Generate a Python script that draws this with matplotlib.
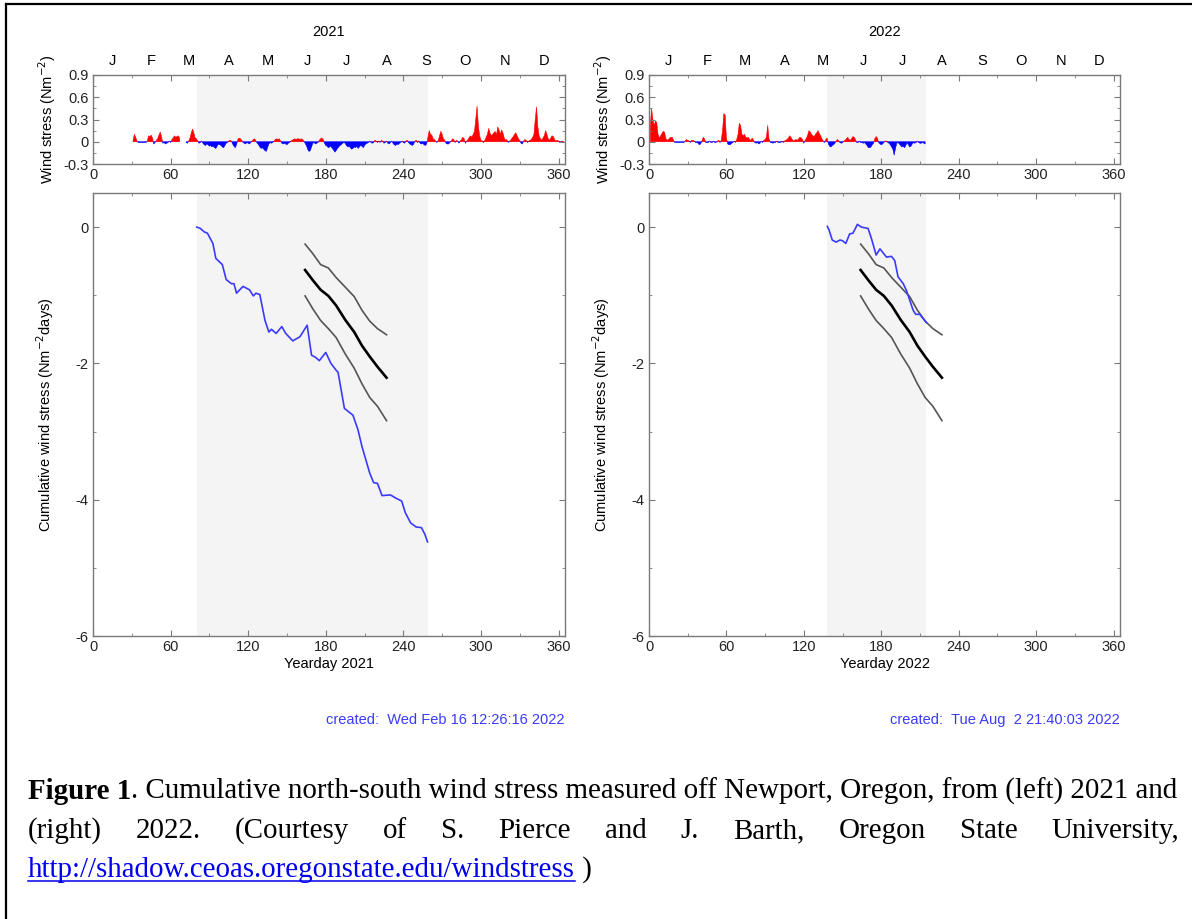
import numpy as np
import matplotlib
matplotlib.use("Agg")
import matplotlib.pyplot as plt
from matplotlib.lines import Line2D
from matplotlib.ticker import MultipleLocator

plt.rcParams["font.family"] = ["Liberation Sans", "DejaVu Sans"]
plt.rcParams["axes.unicode_minus"] = False

# daily north-south wind stress (N m^-2)
days_2021 = np.arange(31, 365)
tau_2021 = [
    0.02, 0.10, 0.06, 0.01, -0.01, -0.01, -0.01, -0.01, -0.01, -0.01,
    -0.01, 0.01, 0.08, 0.07, 0.09, 0.05, -0.03, -0.01, 0.02, 0.04,
    0.09, 0.13, 0.07, -0.02, -0.01, -0.03, -0.02, -0.01, 0.01, -0.01,
    0.03, 0.05, 0.08, 0.06, 0.07, 0.08, 0.05, np.nan, np.nan, np.nan,
    np.nan, -0.01, -0.02, 0.01, 0.05, 0.12, 0.17, 0.12, 0.05, 0.04,
    0.01, -0.02, -0.01, 0.01, -0.02, -0.04, -0.05, -0.03, -0.04, -0.06,
    -0.05, -0.07, -0.06, -0.08, -0.09, -0.06, -0.03, -0.04, -0.05, -0.07,
    -0.08, -0.05, -0.02, -0.01, 0.01, 0.02, 0.01, -0.03, -0.06, -0.08,
    -0.04, 0.03, 0.05, 0.04, 0.02, -0.01, -0.02, -0.03, -0.01, -0.02,
    -0.03, -0.01, 0.01, 0.03, 0.04, 0.01, -0.02, -0.04, -0.07, -0.09,
    -0.08, -0.10, -0.12, -0.13, -0.08, -0.03, -0.01, -0.02, -0.01, 0.01,
    0.03, 0.04, 0.03, 0.04, 0.01, -0.02, -0.03, -0.02, -0.03, -0.04,
    -0.02, -0.01, 0.01, 0.02, 0.03, 0.04, 0.03, 0.04, 0.04, 0.03,
    0.04, 0.03, 0.01, -0.02, -0.05, -0.10, -0.13, -0.12, -0.07, -0.02,
    -0.01, -0.03, -0.02, -0.01, 0.02, 0.04, 0.05, 0.03, -0.02, -0.05,
    -0.06, -0.08, -0.07, -0.06, -0.09, -0.11, -0.14, -0.12, -0.09, -0.07,
    -0.05, -0.04, -0.02, -0.01, -0.02, -0.05, -0.07, -0.06, -0.08, -0.10,
    -0.09, -0.07, -0.08, -0.06, -0.09, -0.07, -0.05, -0.06, -0.08, -0.05,
    -0.03, -0.02, -0.01, 0.01, -0.01, -0.02, -0.01, 0.02, 0.01, -0.01,
    0.01, -0.01, 0.02, 0.01, -0.02, -0.01, 0.01, -0.02, -0.03, -0.01,
    0.01, -0.02, -0.04, -0.05, -0.03, -0.04, -0.02, -0.01, 0.01, -0.01,
    -0.02, 0.01, 0.02, -0.01, -0.03, -0.04, -0.05, -0.03, 0.01, 0.02,
    -0.01, 0.01, -0.02, -0.03, -0.02, -0.04, -0.05, -0.03, 0.06, 0.15,
    0.10, 0.09, 0.04, 0.03, 0.01, -0.01, 0.02, 0.08, 0.14, 0.10,
    0.04, 0.02, -0.02, -0.03, -0.03, -0.01, 0.01, 0.04, 0.03, -0.01,
    0.02, 0.01, -0.02, 0.01, 0.03, 0.06, 0.04, -0.02, 0.01, 0.03,
    0.06, 0.08, 0.06, 0.10, 0.14, 0.30, 0.48, 0.22, 0.08, 0.02,
    0.01, -0.01, 0.02, 0.06, 0.10, 0.18, 0.12, 0.08, 0.10, 0.12,
    0.14, 0.09, 0.20, 0.16, 0.10, 0.16, 0.12, 0.05, 0.02, 0.03,
    -0.01, 0.01, 0.02, 0.05, 0.07, 0.10, 0.12, 0.08, 0.04, 0.02,
    -0.02, -0.03, 0.01, 0.03, 0.02, -0.01, 0.01, 0.02, 0.03, 0.06,
    0.10, 0.30, 0.47, 0.20, 0.08, 0.04, 0.02, 0.05, 0.08, 0.15,
    0.10, 0.04, 0.02, 0.05, 0.08, 0.07, 0.03, 0.01, 0.02, 0.01,
    -0.01, 0.00, 0.01, 0.00,
]

days_2022 = np.arange(1, 215)
tau_2022 = [
    0.20, 0.45, 0.30, 0.22, 0.28, 0.26, 0.10, 0.05, 0.08, 0.11,
    0.14, 0.13, 0.05, 0.02, 0.03, 0.05, 0.06, 0.06, 0.02, -0.01,
    -0.01, -0.01, -0.01, -0.01, -0.01, -0.01, -0.01, 0.01, 0.03, 0.02,
    0.01, -0.01, 0.02, 0.02, 0.01, -0.01, -0.01, -0.02, -0.04, -0.03,
    0.01, 0.06, 0.04, -0.01, -0.01, -0.01, 0.01, -0.01, -0.01, 0.01,
    -0.01, -0.01, 0.01, 0.02, -0.01, 0.02, 0.15, 0.38, 0.36, 0.05,
    -0.03, -0.04, -0.04, -0.02, -0.01, 0.01, -0.01, 0.03, 0.10, 0.25,
    0.22, 0.10, 0.08, 0.10, 0.06, 0.05, 0.06, 0.03, 0.02, 0.05,
    0.02, -0.01, -0.02, -0.01, -0.03, -0.02, 0.01, -0.01, 0.02, 0.03,
    0.06, 0.22, 0.04, -0.01, -0.01, -0.02, -0.01, -0.01, 0.01, -0.01,
    -0.01, -0.01, 0.01, -0.01, 0.01, 0.02, 0.03, 0.05, 0.08, 0.06,
    0.03, 0.01, 0.02, 0.03, 0.02, 0.04, 0.06, 0.05, 0.03, -0.02,
    0.02, 0.05, 0.09, 0.15, 0.13, 0.10, 0.08, 0.07, 0.10, 0.12,
    0.15, 0.11, 0.08, 0.04, 0.01, -0.01, 0.03, 0.05, -0.03, -0.06,
    -0.07, -0.05, -0.04, -0.02, 0.01, 0.03, 0.01, -0.01, -0.02, -0.01,
    0.01, 0.02, 0.04, 0.06, 0.03, 0.02, 0.04, 0.07, 0.06, 0.03,
    -0.01, -0.01, 0.01, -0.01, -0.01, -0.02, -0.01, -0.03, -0.05, -0.08,
    -0.08, -0.07, -0.04, -0.02, 0.04, 0.07, 0.05, -0.01, -0.03, -0.04,
    -0.03, -0.01, 0.01, 0.01, -0.01, -0.02, -0.04, -0.07, -0.10, -0.18,
    -0.09, -0.02, -0.01, -0.03, -0.05, -0.07, -0.06, -0.08, -0.05, -0.01,
    -0.04, -0.07, -0.06, -0.03, -0.01, -0.02, -0.01, 0.01, -0.01, -0.02,
    -0.02, -0.01, -0.02, -0.03,
]

# cumulative wind stress since the spring transition (N m^-2 days)
cum_days_2021 = [80.3, 83, 86, 88.5, 92.7, 95, 100, 103, 107, 109, 111, 116, 121, 124,
                 126, 129, 133, 136, 138, 141.6, 146, 149, 154.5, 160, 165.6, 169, 172,
                 175, 180, 184, 188, 189.5, 194.4, 201, 205, 208, 214, 217, 220, 223.5,
                 230, 234.5, 238.7, 241.5, 245.6, 249.8, 254, 256.7, 258.7]
cum_2021 = [0.0, -0.02, -0.07, -0.09, -0.24, -0.46, -0.55, -0.77, -0.83, -0.83, -0.97,
            -0.87, -0.92, -1.01, -0.97, -0.99, -1.37, -1.54, -1.50, -1.56, -1.46, -1.56,
            -1.67, -1.61, -1.44, -1.88, -1.91, -1.96, -1.84, -2.00, -2.10, -2.13, -2.66,
            -2.76, -2.98, -3.22, -3.61, -3.75, -3.76, -3.94, -3.93, -3.98, -4.02, -4.19,
            -4.34, -4.40, -4.41, -4.51, -4.62]

cum_days_2022 = [138.2, 139.5, 142, 145, 148, 150, 152.5, 155.5, 158, 159.4, 161.5, 164.6,
                 169.8, 172.4, 176, 179, 184, 187.9, 190.4, 193, 197, 199.5, 202, 204.7,
                 206.7, 209.8, 212.4, 215]
cum_2022 = [0.01, -0.04, -0.19, -0.22, -0.19, -0.20, -0.24, -0.10, -0.09, -0.04, 0.04,
            0.0, -0.02, -0.17, -0.41, -0.32, -0.44, -0.43, -0.49, -0.73, -0.83, -0.93,
            -1.07, -1.22, -1.28, -1.28, -1.34, -1.40]

# climatology (mean and +/- one std) of cumulative stress
clim_days = [164, 170, 176, 182, 188, 195, 202, 208, 214, 220, 227]
clim_upper = [-0.25, -0.39, -0.55, -0.60, -0.74, -0.88, -1.02, -1.22, -1.38, -1.49, -1.58]
clim_mean = [-0.63, -0.78, -0.92, -1.01, -1.15, -1.36, -1.54, -1.74, -1.90, -2.05, -2.21]
clim_lower = [-1.01, -1.20, -1.37, -1.49, -1.62, -1.86, -2.07, -2.30, -2.50, -2.63, -2.84]

season_2021 = (80.8, 258.8)
season_2022 = (138.0, 214.8)

months = ["J", "F", "M", "A", "M", "J", "J", "A", "S", "O", "N", "D"]
month_mid = [15, 45, 74, 105, 135, 166, 196, 227, 258, 288, 319, 349]

created_2021 = "created:  Wed Feb 16 12:26:16 2022"
created_2022 = "created:  Tue Aug  2 21:40:03 2022"

W, H = 1192, 919
FS = 10.5
SPINE = "#7a7a7a"
SHADE = "#f4f4f4"
BLUE = "#3a3aff"

fig = plt.figure(figsize=(W / 100, H / 100), dpi=100)


def px_box(x0, y0, x1, y1):
    return [x0 / W, 1 - y1 / H, (x1 - x0) / W, (y1 - y0) / H]


def style_axes(ax):
    for s in ax.spines.values():
        s.set_color(SPINE)
        s.set_linewidth(1.0)
    ax.tick_params(which="both", direction="in", top=True, right=True,
                   color=SPINE, labelsize=FS, labelcolor="#222222", pad=3)
    ax.tick_params(which="major", length=4)
    ax.tick_params(which="minor", length=2.5)
    ax.set_xlim(0, 365)
    ax.xaxis.set_major_locator(MultipleLocator(60))
    ax.xaxis.set_minor_locator(MultipleLocator(30))


def draw_year(x0, x1, year, days, tau, season, cdays, cum, created):
    tau = np.array(tau, dtype=float)

    # top: daily wind stress
    ax = fig.add_axes(px_box(x0, 75, x1, 164))
    style_axes(ax)
    ax.axvspan(*season, color=SHADE, zorder=0, lw=0)
    ax.fill_between(days, tau, 0, where=tau >= 0, interpolate=True,
                    color="red", lw=0.4, edgecolor="red")
    ax.fill_between(days, tau, 0, where=tau <= 0, interpolate=True,
                    color="blue", lw=0.4, edgecolor="blue")
    ax.set_ylim(-0.3, 0.9)
    ax.set_yticks([-0.3, 0, 0.3, 0.6, 0.9])
    ax.set_yticklabels(["-0.3", "0", "0.3", "0.6", "0.9"])
    ax.yaxis.set_minor_locator(MultipleLocator(0.15))
    ax.set_ylabel("Wind stress (Nm$^{-2}$)", fontsize=FS, labelpad=4)
    tr = ax.get_xaxis_transform()
    for m, d in zip(months, month_mid):
        ax.text(d, 1.16, m, transform=tr, ha="center", va="center", fontsize=FS)
    ax.text(0.5, 1.48, year, transform=ax.transAxes, ha="center", va="center",
            fontsize=FS)

    # bottom: cumulative wind stress
    bx = fig.add_axes(px_box(x0, 193, x1, 636))
    style_axes(bx)
    bx.axvspan(*season, color=SHADE, zorder=0, lw=0)
    bx.plot(clim_days, clim_upper, color="#555555", lw=1.2)
    bx.plot(clim_days, clim_lower, color="#555555", lw=1.2)
    bx.plot(clim_days, clim_mean, color="black", lw=1.9)
    bx.plot(cdays, cum, color=BLUE, lw=1.2)
    bx.set_ylim(-6, 0.5)
    bx.set_yticks([-6, -4, -2, 0])
    bx.set_yticklabels(["-6", "-4", "-2", "0"])
    bx.yaxis.set_minor_locator(MultipleLocator(1))
    bx.set_ylabel("Cumulative wind stress (Nm$^{-2}$days)", fontsize=FS, labelpad=14)
    bx.set_xlabel("Yearday " + year, fontsize=FS, labelpad=2)
    fig.text(x1 / W, 1 - 720 / H, created, color=BLUE, ha="right", va="center",
             fontsize=FS)


draw_year(93, 565, "2021", days_2021, tau_2021, season_2021,
          cum_days_2021, cum_2021, created_2021)
draw_year(649, 1120, "2022", days_2022, tau_2022, season_2022,
          cum_days_2022, cum_2022, created_2022)

# page border (left and top edges)
fig.add_artist(Line2D([6 / W, 6 / W], [0, 1 - 4 / H], color="black", lw=1.6))
fig.add_artist(Line2D([6 / W, 1], [1 - 4 / H, 1 - 4 / H], color="black", lw=1.6))

# caption, Times-like, fitted to the page width
renderer = fig.canvas.get_renderer()
serif = ["Liberation Serif", "DejaVu Serif"]


def put(x, y, s, **kw):
    t = fig.text(x / W, 1 - y / H, s, family=serif, va="baseline", **kw)
    return t, t.get_window_extent(renderer).width


line1_bold = "Figure 1"
line1_rest = ". Cumulative north-south wind stress measured off Newport, Oregon, from (left) 2021 and"
line2 = "(right) 2022. (Courtesy of S. Pierce and J. Barth, Oregon State University,"
url = "http://shadow.ceoas.oregonstate.edu/windstress"
left, right = 28, 1179

t1, w1 = put(0, 0, line1_bold, fontsize=20, weight="bold")
t2, w2 = put(0, 0, line1_rest, fontsize=20)
t1.remove()
t2.remove()
cfs = 20 * (right - left) / (w1 + w2)

_, wb = put(left, 799, line1_bold, fontsize=cfs, weight="bold")
put(left + wb, 799, line1_rest, fontsize=cfs)

words = line2.split()
widths = []
for wd in words:
    t, w = put(0, 0, wd, fontsize=cfs)
    t.remove()
    widths.append(w)
gap = (right - left - sum(widths)) / (len(words) - 1)
x = left
for wd, w in zip(words, widths):
    put(x, 838, wd, fontsize=cfs)
    x += w + gap

_, wu = put(left, 877, url, fontsize=cfs, color="#0000ee")
fig.add_artist(Line2D([left / W, (left + wu) / W], [1 - 881 / H, 1 - 881 / H],
                      color="#0000ee", lw=1.1))
put(left + wu, 877, " )", fontsize=cfs)

fig.savefig("out.png", dpi=100)
